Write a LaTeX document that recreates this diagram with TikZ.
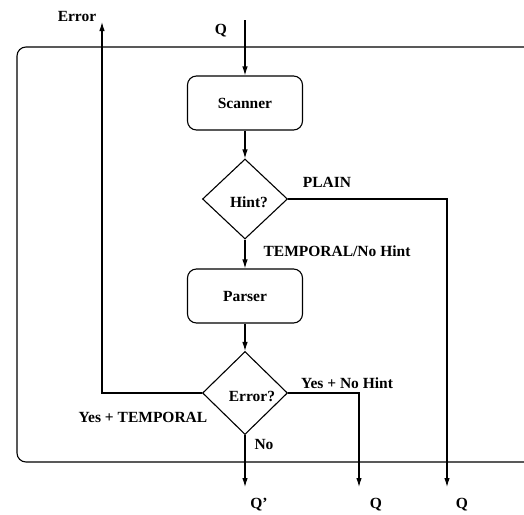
\documentclass[tikz,border=0pt]{standalone}
\usepackage{fontspec}
\setmainfont{Liberation Serif}
\usetikzlibrary{shapes.geometric,arrows.meta}
\begin{document}
\begin{tikzpicture}[x=1pt,y=-1pt,
  line width=1.1pt,
  every node/.style={font=\fontsize{15.5}{18}\selectfont\bfseries},
  box/.style={draw,rounded corners=9pt,minimum width=115pt,minimum height=54pt,inner sep=0pt},
  arr/.style={-{Latex[length=9pt,width=5.5pt]}},
  lbl/.style={inner sep=0pt}]
\useasboundingbox (0,0) rectangle (524,514);
\begin{scope}
\clip (0,0) rectangle (524,514);
\draw[rounded corners=9pt] (17,47) rectangle (560,462);
\end{scope}
\node[box] (scan) at (245,103) {Scanner};
\node[box] (pars) at (245,296) {Parser};
\node[draw,diamond,minimum width=85pt,minimum height=80pt,inner sep=0pt] (hint) at (245,199) {};
\node[lbl] at (249,202) {Hint?};
\node[draw,diamond,minimum width=85pt,minimum height=83pt,inner sep=0pt] (err) at (245,393) {};
\node[lbl] at (252,396) {Error?};
\coordinate (qin) at (245,20);
\node[lbl] (qlab) at (221,31) {Q};
\coordinate (errtop) at (102,22);
\node[lbl] (errlab) at (77,17) {Error};
\coordinate (out1) at (245,487);
\coordinate (out2) at (359,487);
\coordinate (out3) at (447,487);
\node[lbl] (q1) at (259,505) {Q'};
\node[lbl] (q2) at (376,505) {Q};
\node[lbl] (q3) at (462,505) {Q};
\draw[arr] (qin) -- (scan.north);
\draw[arr] (scan.south) -- (hint.north);
\draw[arr] (hint.south) -- (pars.north);
\draw[arr] (pars.south) -- (err.north);
\draw[arr] (hint.east) -| (out3);
\draw[arr] (err.east) -| (out2);
\draw[arr] (err.south) -- (out1);
\draw[arr] (err.west) -| (errtop);
\node[lbl] at (327,182) {PLAIN};
\node[lbl] at (337,251) {TEMPORAL/No Hint};
\node[lbl] at (347,383) {Yes + No Hint};
\node[lbl] at (143,417) {Yes + TEMPORAL};
\node[lbl] at (264,444) {No};
\end{tikzpicture}
\end{document}
